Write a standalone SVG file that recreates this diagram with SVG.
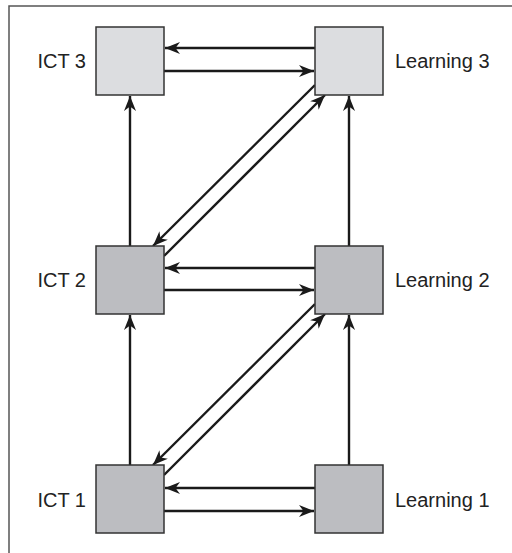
<svg xmlns="http://www.w3.org/2000/svg" width="512" height="553" viewBox="0 0 512 553">
  <defs>
    <marker id="arrow" viewBox="0 0 15 12" markerWidth="15" markerHeight="12" refX="15" refY="6" orient="auto" markerUnits="userSpaceOnUse">
      <path d="M0,0 L15,6 L0,12 L4.5,6 z" fill="#1a1a1a"/>
    </marker>
    <style>
      .frame { fill: none; stroke: #555; stroke-width: 1.5; }
      .box-light { fill: #dcdde0; stroke: #333; stroke-width: 1.5; }
      .box-dark { fill: #bcbdc1; stroke: #333; stroke-width: 1.5; }
      .label { font-family: "Liberation Sans", Arial, sans-serif; font-size: 20px; fill: #222; }
      .link { fill: none; stroke: #1a1a1a; stroke-width: 2.4; marker-end: url(#arrow); }
    </style>
  </defs>

  <rect width="512" height="553" fill="#ffffff"/>

  <!-- open frame: top and left edges -->
  <path class="frame" d="M512,6 H9 V553"/>

  <g id="connectors">
    <!-- level 3 horizontal pair -->
    <line class="link" x1="315" y1="48" x2="165" y2="48"/>
    <line class="link" x1="164" y1="71" x2="314" y2="71"/>
    <!-- level 2 horizontal pair -->
    <line class="link" x1="315" y1="268" x2="165" y2="268"/>
    <line class="link" x1="164" y1="290" x2="314" y2="290"/>
    <!-- level 1 horizontal pair -->
    <line class="link" x1="315" y1="488" x2="165" y2="488"/>
    <line class="link" x1="164" y1="511" x2="314" y2="511"/>
    <!-- verticals -->
    <line class="link" x1="130" y1="246" x2="130" y2="96"/>
    <line class="link" x1="130" y1="465" x2="130" y2="315"/>
    <line class="link" x1="349" y1="246" x2="349" y2="96"/>
    <line class="link" x1="349" y1="465" x2="349" y2="315"/>
    <!-- diagonals between level 2 and level 3 -->
    <line class="link" x1="315" y1="85" x2="153" y2="246"/>
    <line class="link" x1="164" y1="256" x2="325" y2="95"/>
    <!-- diagonals between level 1 and level 2 -->
    <line class="link" x1="315" y1="304" x2="153" y2="465"/>
    <line class="link" x1="164" y1="475" x2="325" y2="314"/>
  </g>

  <g id="ict3">
    <rect class="box-light" x="96" y="27" width="68" height="68"/>
    <text class="label" x="86" y="68" text-anchor="end">ICT 3</text>
  </g>
  <g id="learning3">
    <rect class="box-light" x="315" y="27" width="68" height="68"/>
    <text class="label" x="395" y="68">Learning 3</text>
  </g>
  <g id="ict2">
    <rect class="box-dark" x="96" y="246" width="68" height="68"/>
    <text class="label" x="86" y="287" text-anchor="end">ICT 2</text>
  </g>
  <g id="learning2">
    <rect class="box-dark" x="315" y="246" width="68" height="68"/>
    <text class="label" x="395" y="287">Learning 2</text>
  </g>
  <g id="ict1">
    <rect class="box-dark" x="96" y="465" width="68" height="68"/>
    <text class="label" x="86" y="507" text-anchor="end">ICT 1</text>
  </g>
  <g id="learning1">
    <rect class="box-dark" x="315" y="465" width="68" height="68"/>
    <text class="label" x="395" y="507">Learning 1</text>
  </g>
</svg>
